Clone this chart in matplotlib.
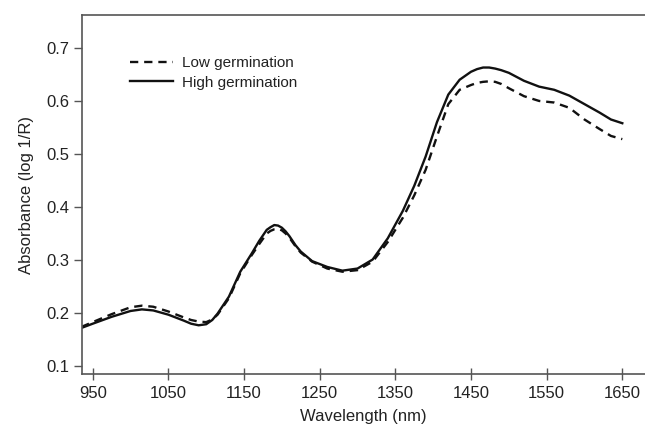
import matplotlib
matplotlib.use("Agg")
import matplotlib.pyplot as plt

plt.rcParams['font.family'] = ['Liberation Sans', 'DejaVu Sans']

# wavelength (nm) and absorbance
wavelength = [935, 950, 975, 1000, 1015, 1030, 1050, 1070, 1080, 1090, 1100, 1108, 1115, 1130,
              1145, 1160, 1170, 1180, 1185, 1190, 1195, 1200, 1205, 1210, 1218, 1225, 1240,
              1260, 1280, 1300, 1320, 1340, 1360, 1375, 1390, 1405, 1420, 1435, 1450, 1458,
              1466, 1474, 1482, 1490, 1500, 1520, 1540, 1560, 1580, 1600, 1620, 1635, 1650]
low_germ = [0.174, 0.183, 0.198, 0.211, 0.214, 0.212, 0.203, 0.192, 0.187, 0.184, 0.183, 0.188,
            0.197, 0.228, 0.275, 0.309, 0.330, 0.350, 0.355, 0.358, 0.359, 0.356, 0.350, 0.342,
            0.326, 0.314, 0.297, 0.284, 0.278, 0.281, 0.297, 0.334, 0.380, 0.422, 0.470, 0.533,
            0.594, 0.621, 0.630, 0.634, 0.636, 0.637, 0.636, 0.632, 0.624, 0.609, 0.600, 0.597,
            0.587, 0.565, 0.547, 0.534, 0.528]
high_germ = [0.172, 0.180, 0.193, 0.204, 0.207, 0.205, 0.197, 0.186, 0.180, 0.177, 0.179, 0.187,
             0.199, 0.231, 0.278, 0.312, 0.336, 0.357, 0.362, 0.366, 0.365, 0.361, 0.354, 0.345,
             0.328, 0.316, 0.298, 0.287, 0.280, 0.284, 0.301, 0.341, 0.393, 0.440, 0.495, 0.560,
             0.612, 0.640, 0.655, 0.660, 0.663, 0.663, 0.661, 0.658, 0.653, 0.638, 0.627, 0.621,
             0.610, 0.594, 0.578, 0.565, 0.558]

xticks = [950, 1050, 1150, 1250, 1350, 1450, 1550, 1650]
yticks = [0.1, 0.2, 0.3, 0.4, 0.5, 0.6, 0.7]

fig = plt.figure(figsize=(6.45, 4.29), dpi=100)
ax = fig.add_axes([0.127, 0.128, 0.873, 0.837])

ax.plot(wavelength, low_germ, color="#111111", lw=1.7, ls=(0, (3.5, 2.5)), label="Low germination")
ax.plot(wavelength, high_germ, color="#111111", lw=1.7, label="High germination")

ax.set_xlim(935.7, 1680)
ax.set_ylim(0.085, 0.762)
ax.set_xticks(xticks)
ax.set_yticks(yticks)
ax.set_yticklabels(["%.1f" % v for v in yticks])

ax.spines['right'].set_visible(False)
for s in ['left', 'bottom', 'top']:
    ax.spines[s].set_color("#555555")
    ax.spines[s].set_linewidth(1.2)
ax.tick_params(axis='x', direction='inout', length=9, width=1.0, color="#555555",
               labelsize=12, labelcolor="#222222", pad=4)
ax.tick_params(axis='y', direction='out', length=6, width=1.0, color="#555555",
               labelsize=12, labelcolor="#222222", pad=3)

ax.set_xlabel("Wavelength (nm)", fontsize=12, color="#222222", labelpad=6)
ax.set_ylabel("Absorbance (log 1/R)", fontsize=12, color="#222222", labelpad=9)

ax.legend(loc='upper left', bbox_to_anchor=(0.085, 0.885), frameon=False, fontsize=11,
          handlelength=2.8, handletextpad=0.6, borderpad=0, borderaxespad=0,
          labelspacing=0.35, labelcolor="#222222")

plt.savefig("out.png", dpi=100)
